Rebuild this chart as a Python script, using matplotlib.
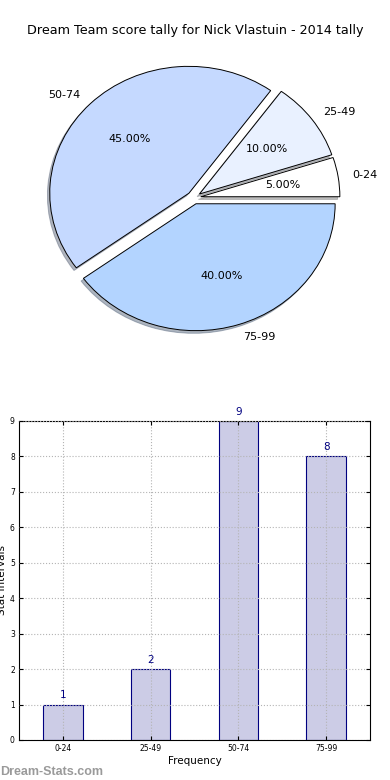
import matplotlib
matplotlib.use("Agg")
import matplotlib.pyplot as plt

intervals = ["0-24", "25-49", "50-74", "75-99"]
counts = [1, 2, 9, 8]
shares = [5, 10, 45, 40]
pie_colors = ["#ffffff", "#e9f1ff", "#c5d9ff", "#b3d4ff"]

fig = plt.figure(figsize=(3.9, 7.8), dpi=100)

# pie (stretched, like old matplotlib without equal aspect)
ax1 = fig.add_axes([0.0385, 0.535, 0.917, 0.423])
ax1.pie(shares, labels=intervals, colors=pie_colors, explode=[0.05] * 4,
        autopct="%1.2f%%", startangle=0,
        shadow={"ox": -0.012, "oy": -0.015, "shade": 0.5},
        wedgeprops={"edgecolor": "black", "linewidth": 0.7},
        textprops={"fontsize": 8})
ax1.set_aspect("auto")
ax1.set_xlim(-1.285, 1.285)
ax1.set_ylim(-1.30, 1.30)
fig.text(0.5, 0.961, "Dream Team score tally for Nick Vlastuin - 2014 tally",
         ha="center", va="center", fontsize=9.2)

# bars
ax2 = fig.add_axes([0.0487, 0.0513, 0.9, 0.409])
x = range(len(intervals))
ax2.bar(x, counts, width=0.45, color="#ccccE6", edgecolor="#000080", linewidth=0.8,
        zorder=1)
for i, c in zip(x, counts):
    ax2.text(i, c + 0.12, str(c), ha="center", va="bottom", color="#000080", fontsize=7.5)
ax2.set_xlim(-0.5, 3.5)
ax2.set_ylim(0, 9)
ax2.set_xticks(list(x))
ax2.set_xticklabels(intervals)
ax2.set_yticks(range(10))
ax2.grid(True, linestyle=":", color="#b4b4b4", linewidth=0.8, zorder=2)
ax2.set_axisbelow(False)
ax2.tick_params(direction="in", top=True, right=True, length=3, labelsize=5.5, pad=3)
ax2.set_xlabel("Frequency", fontsize=7.5, labelpad=2)
ax2.set_ylabel("Stat Intervals", fontsize=7.5, labelpad=2)
for s in ax2.spines.values():
    s.set_linewidth(0.8)

fig.text(0.0, 0.003, "Dream-Stats.com", ha="left", va="bottom", fontsize=9,
         color="#9a9a9a", fontweight="bold", family=["Liberation Sans", "DejaVu Sans"])

fig.savefig("out.png", dpi=100)
